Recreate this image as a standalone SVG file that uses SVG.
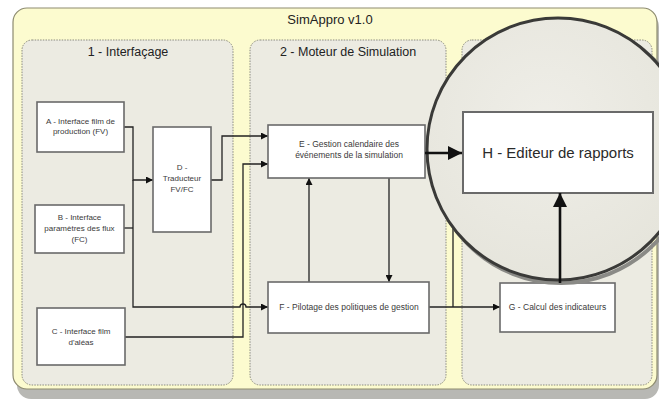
<svg xmlns="http://www.w3.org/2000/svg" width="659" height="403" viewBox="0 0 659 403">
<style>
.outer{fill:#fcfbcf;stroke:#8d8b70;stroke-width:1.2}
.panel{fill:#ecebe2;stroke:#8a8a80;stroke-width:1;stroke-dasharray:1.5 1.2}
.box{fill:#ffffff;stroke:#6a6a6a;stroke-width:1.6}
.lbl{font-family:"Liberation Sans",Arial,sans-serif;font-size:8px;fill:#3a3a3a;text-anchor:middle}
.lbl8{font-family:"Liberation Sans",Arial,sans-serif;font-size:8.5px;fill:#3a3a3a;text-anchor:middle}
.ttl{font-family:"Liberation Sans",Arial,sans-serif;font-size:12.5px;fill:#222;text-anchor:middle}
.big{font-family:"Liberation Sans",Arial,sans-serif;font-size:15px;fill:#2a2a2a;text-anchor:middle}
.conn{fill:none;stroke:#222;stroke-width:1.3}
.thick{fill:none;stroke:#111;stroke-width:2.6}
</style>
<defs>
<marker id="ah" viewBox="0 0 10 10" refX="10" refY="5" markerWidth="7" markerHeight="7" markerUnits="userSpaceOnUse" orient="auto">
<path d="M0,0 L10,5 L0,10 z" fill="#111"/>
</marker>
<marker id="ahb" viewBox="0 0 10 10" refX="10" refY="5" markerWidth="14" markerHeight="14" markerUnits="userSpaceOnUse" orient="auto">
<path d="M0,0 L10,5 L0,10 z" fill="#111"/>
</marker>
<radialGradient id="lens" cx="0.45" cy="0.4" r="0.6">
<stop offset="0" stop-color="#efeee8"/>
<stop offset="1" stop-color="#e6e5dc"/>
</radialGradient>
</defs>
<rect width="659" height="403" fill="#ffffff"/>
<g id="container">
<rect x="17" y="13" width="642" height="386" rx="14" fill="#b8b8b4"/>
<rect class="outer" x="13" y="8" width="644" height="381" rx="14"/>
<text class="ttl" x="330" y="24" style="font-size:13px">SimAppro v1.0</text>
</g>
<g id="panel1">
<rect class="panel" x="22" y="40" width="211" height="345" rx="10"/>
<text class="ttl" x="128" y="56">1 - Interfaçage</text>
</g>
<g id="panel2">
<rect class="panel" x="250" y="40" width="196" height="345" rx="10"/>
<text class="ttl" x="348" y="56">2 - Moteur de Simulation</text>
</g>
<g id="panel3">
<rect class="panel" x="462" y="40" width="190" height="345" rx="10"/>
</g>
<g id="connectors">
<path class="conn" d="M124,127 H133 V180 H153" marker-end="url(#ah)"/>
<path class="conn" d="M124,228 H133"/>
<path class="conn" d="M133,180 V307 H240 a3,3 0 0 1 6,0 H268" marker-end="url(#ah)"/>
<path class="conn" d="M211,180 H222 V136 H268" marker-end="url(#ah)"/>
<path class="conn" d="M125,337 H243 V164 H268" marker-end="url(#ah)"/>
<path class="conn" d="M309,282 V178" marker-end="url(#ah)"/>
<path class="conn" d="M389,178 V282" marker-end="url(#ah)"/>
<path class="conn" d="M429,307 H500" marker-end="url(#ah)"/>
<path class="conn" d="M453,307 V150"/>
</g>
<g id="nodeA">
<rect class="box" x="37" y="102" width="87" height="50"/>
<text class="lbl" x="80.5" y="124">A - Interface film de</text>
<text class="lbl" x="80.5" y="134">production (FV)</text>
</g>
<g id="nodeB">
<rect class="box" x="35" y="205" width="89" height="48"/>
<text class="lbl" x="79.5" y="220">B - Interface</text>
<text class="lbl" x="79.5" y="231">paramètres des flux</text>
<text class="lbl" x="79.5" y="242">(FC)</text>
</g>
<g id="nodeC">
<rect class="box" x="37" y="308" width="88" height="57"/>
<text class="lbl" x="81" y="334">C - Interface film</text>
<text class="lbl" x="81" y="345">d'aléas</text>
</g>
<g id="nodeD">
<rect class="box" x="153" y="127" width="58" height="105"/>
<text class="lbl" x="182" y="170">D -</text>
<text class="lbl" x="182" y="181">Traducteur</text>
<text class="lbl" x="182" y="192">FV/FC</text>
</g>
<g id="nodeE">
<rect class="box" x="268" y="125" width="157" height="53"/>
<text class="lbl8" x="349" y="147">E - Gestion calendaire des</text>
<text class="lbl8" x="349" y="158">événements de la simulation</text>
</g>
<g id="nodeF">
<rect class="box" x="268" y="282" width="161" height="51"/>
<text class="lbl8" x="349" y="310">F - Pilotage des politiques de gestion</text>
</g>
<g id="nodeG">
<rect class="box" x="500" y="283" width="115" height="49"/>
<text class="lbl8" x="557.5" y="310">G - Calcul des indicateurs</text>
</g>
<g id="magnifier">
<circle cx="561" cy="152" r="131" fill="none" stroke="#8a8a86" stroke-width="4"/>
<circle cx="558" cy="149" r="131" fill="url(#lens)" stroke="#3a3a38" stroke-width="3"/>
</g>
<g id="nodeH">
<rect class="box" x="463" y="112" width="190" height="81" style="stroke-width:2"/>
<text class="big" x="558" y="158">H - Editeur de rapports</text>
</g>
<g id="connectors-zoom">
<path class="thick" d="M425,153 H462" marker-end="url(#ahb)"/>
<path class="thick" d="M560,283 V193" marker-end="url(#ahb)"/>
</g>
</svg>
